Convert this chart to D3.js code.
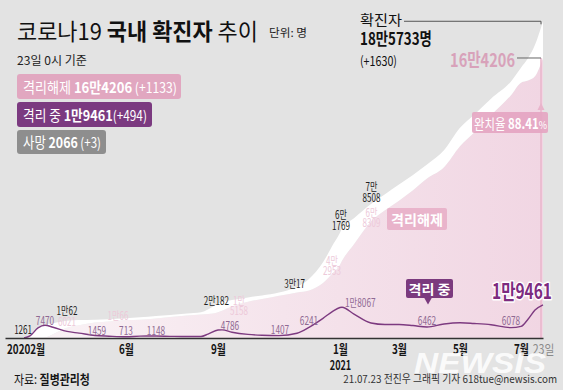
<!DOCTYPE html>
<html>
<head>
<meta charset="utf-8">
<title>코로나19 국내 확진자 추이</title>
<script src="https://cdn.jsdelivr.net/npm/d3@7"></script>
<style>
  body { margin: 0; background: #e3e3e3; }
  svg { display: block; font-family: "Noto Sans CJK KR", "Noto Sans", sans-serif; }
  text { white-space: pre; }
</style>
</head>
<body>
<svg id="chart" width="563" height="390"></svg>
<script>
// cumulative figures (rounded)
var dates = ["2020-02-20", "2020-02-26", "2020-03-05", "2020-03-12", "2020-03-20", "2020-04-03",
  "2020-04-15", "2020-05-01", "2020-05-15", "2020-06-01", "2020-06-15", "2020-07-01", "2020-07-15",
  "2020-08-01", "2020-08-15", "2020-08-22", "2020-09-01", "2020-09-05", "2020-09-15", "2020-10-01",
  "2020-10-15", "2020-11-01", "2020-11-19", "2020-12-01", "2020-12-15", "2020-12-25", "2021-01-01",
  "2021-01-03", "2021-01-15", "2021-02-01", "2021-02-15", "2021-03-01", "2021-03-15", "2021-03-29",
  "2021-04-15", "2021-05-01", "2021-05-15", "2021-06-01", "2021-06-21", "2021-07-01", "2021-07-08",
  "2021-07-15", "2021-07-23"];
var confirmed = [104, 1261, 6088, 7869, 8652, 10062, 10591, 10774, 10991, 11541, 12121, 12850, 13551,
  14336, 15039, 16670, 20182, 21177, 22285, 23812, 24889, 26635, 30017, 34652, 44364, 54770, 61769,
  64264, 70212, 78508, 84325, 90029, 95635, 101757, 110146, 123240, 130772, 140340, 150458, 158549,
  164028, 171911, 185733];
var released = [15, 34, 113, 333, 2233, 6021, 7496, 9065, 9681, 10556, 10744, 11420, 12282, 13195,
  13854, 14061, 15158, 16047, 18522, 21299, 22850, 24764, 26717, 27885, 32264, 38214, 42952, 45229,
  55017, 68309, 74881, 80524, 86665, 93565, 100162, 112507, 120378, 130581, 142372, 149732, 150998,
  153463, 164206];
var isolating = [88, 1215, 5940, 7470, 6325, 3867, 2870, 1459, 1050, 713, 1100, 1148, 980, 840, 880,
  2300, 4700, 4786, 3400, 2100, 1600, 1407, 2800, 6241, 11500, 15800, 17900, 18067, 14000, 8779, 7900,
  7900, 7300, 6462, 8200, 8900, 8500, 7800, 6078, 6800, 11000, 16400, 19461];

var tickDates = ["2020-02-01", "2020-06-01", "2020-09-01", "2021-01-01", "2021-03-01", "2021-05-01", "2021-07-01", "2021-07-23"];
var tickLabels = ["20202월", "6월", "9월", "1월", "3월", "5월", "7월", "23일"];

// point labels: date, series, text lines
var confirmedNotes = [["2020-02-26", ["1261"]], ["2020-04-03", ["1만62"]], ["2020-09-01", ["2만182"]],
  ["2020-11-19", ["3만17"]], ["2021-01-01", ["6만", "1769"]], ["2021-02-01", ["7만", "8508"]]];
var releasedNotes = [["2020-04-03", ["6021"]], ["2020-06-01", ["1만66"]], ["2020-09-01", ["1만", "5158"]],
  ["2021-01-01", ["4만", "2953"]], ["2021-02-01", ["6만", "8309"]]];
var isolatingNotes = [["2020-03-12", "7470"], ["2020-05-01", "1459"], ["2020-06-01", "713"],
  ["2020-07-01", "1148"], ["2020-09-05", "4786"], ["2020-11-01", "1407"], ["2020-12-01", "6241"],
  ["2021-01-03", "1만8067"], ["2021-03-29", "6462"], ["2021-06-21", "6078"]];

var parse = d3.timeParse("%Y-%m-%d");
var rows = dates.map(function (d, i) {
  return { date: parse(d), confirmed: confirmed[i], released: released[i], isolating: isolating[i] };
});
var byDate = {};
rows.forEach(function (r, i) { byDate[dates[i]] = r; });

var svg = d3.select("#chart");
var x = d3.scaleTime().domain([parse("2020-02-01"), parse("2021-07-23")]).range([5, 543]);
var y = d3.scaleLinear().domain([0, 190000]).range([338, 14]);

// text helper: parts = [{t, w, size, fill}], o = {size, fill, anchor, width, sx}
function label(parent, px, py, parts, o) {
  var g = parent.append("g").attr("transform", "translate(" + px + "," + py + ")");
  var t = g.append("text")
    .attr("font-size", o.size)
    .attr("fill", o.fill || "#222")
    .attr("text-anchor", o.anchor || "start");
  if (o.weight) t.attr("font-weight", o.weight);
  parts.forEach(function (p) {
    if (typeof p === "string") p = { t: p };
    var s = t.append("tspan").text(p.t);
    if (p.w) s.attr("font-weight", p.w);
    if (p.size) s.attr("font-size", p.size);
    if (p.fill) s.attr("fill", p.fill);
  });
  var sx = o.sx || 1;
  if (o.width) sx = o.width / t.node().getComputedTextLength();
  g.attr("transform", "translate(" + px + "," + py + ") scale(" + sx + ",1)");
  return t;
}

svg.append("rect").attr("width", 563).attr("height", 390).attr("fill", "#e3e3e3");

var defs = svg.append("defs");
var grad = defs.append("linearGradient").attr("id", "pinkFill").attr("x1", 0).attr("x2", 1).attr("y1", 0).attr("y2", 0);
grad.append("stop").attr("offset", 0).attr("stop-color", "#faf3f6");
grad.append("stop").attr("offset", 0.5).attr("stop-color", "#f5e4ec");
grad.append("stop").attr("offset", 1).attr("stop-color", "#f1d6e3");

var pinkArea = d3.area()
  .x(function (d) { return x(d.date); })
  .y0(y(0))
  .y1(function (d) { return y(d.released); })
  .curve(d3.curveMonotoneX);
var whiteArea = d3.area()
  .x(function (d) { return x(d.date); })
  .y0(function (d) { return y(d.released); })
  .y1(function (d) { return y(d.confirmed); })
  .curve(d3.curveMonotoneX);
var isoLine = d3.line()
  .x(function (d) { return x(d.date); })
  .y(function (d) { return y(d.isolating); })
  .curve(d3.curveMonotoneX);

svg.append("path").datum(rows).attr("d", pinkArea).attr("fill", "url(#pinkFill)");
svg.append("path").datum(rows).attr("d", whiteArea).attr("fill", "#ffffff");

// end marker line
var last = rows[rows.length - 1];
var ex = x(last.date) - 2;
svg.append("line").attr("x1", ex).attr("x2", ex).attr("y1", y(last.released)).attr("y2", y(0))
  .attr("stroke", "#e9b4cb").attr("stroke-width", 1.5);
svg.append("path").attr("d", "M" + ex + ",103l-3.5,7h7z").attr("fill", "#e9b4cb");

svg.append("path").datum(rows).attr("d", isoLine)
  .attr("fill", "none").attr("stroke", "#7d3a80").attr("stroke-width", 1.4);

// axis
var axisG = svg.append("g")
  .attr("transform", "translate(0," + y(0) + ")")
  .call(d3.axisBottom(x)
    .tickValues(tickDates.map(parse))
    .tickFormat(function (d, i) { return tickLabels[i]; })
    .tickSize(0).tickSizeOuter(0).tickPadding(7));
axisG.attr("font-family", null).attr("font-size", 13).attr("font-weight", 700);
axisG.select(".domain").attr("stroke", "#333").attr("stroke-width", 1.3);
axisG.selectAll(".tick text").attr("fill", "#151515").attr("transform", "scale(0.76,1)");
axisG.selectAll(".tick text").filter(function (d, i) { return i === 0; })
  .attr("text-anchor", "start").attr("x", 2);
axisG.selectAll(".tick text").filter(function (d, i) { return i === tickLabels.length - 1; })
  .attr("font-weight", 400).attr("fill", "#8a8a8a").attr("transform", "scale(0.82,1)");
axisG.selectAll(".tick").filter(function (d, i) { return i === 3; })
  .append("text").attr("y", 32).attr("fill", "#151515").attr("text-anchor", "middle")
  .attr("transform", "scale(0.7,1)").text("2021");

// point labels
var confOff = [[2, -2, "end"], [0, -6, "middle"], [11, 1, "end"], [8, 1, "end"], [1, -13.5, "middle"], [0.5, -13, "middle"]];
confirmedNotes.forEach(function (n, i) {
  var r = byDate[n[0]], o = confOff[i];
  n[1].forEach(function (line, j) {
    label(svg, x(r.date) + o[0], y(r.confirmed) + o[1] + j * 10.5, [line],
      { size: 11.5, fill: "#1e1e1e", anchor: o[2], sx: 0.7 });
  });
});
var relOff = [[0, -1.7], [-8, 0], [21, -7], [-8, 0.2], [0.5, -4.5]];
releasedNotes.forEach(function (n, i) {
  var r = byDate[n[0]], o = relOff[i];
  n[1].forEach(function (line, j) {
    label(svg, x(r.date) + o[0], y(r.released) + o[1] + j * 10, [line],
      { size: 11.5, fill: "#edc9d9", anchor: "middle", sx: 0.7 });
  });
});
var isoOff = [[0, 0, "middle"], [2, -0.5, "middle"], [0, -1.8, "middle"], [0, -1, "middle"], [8, 0, "middle"],
  [1, -1.6, "middle"], [0, -2.4, "middle"], [3, 0, "start"], [0, -2, "middle"], [0, -2.6, "middle"]];
isolatingNotes.forEach(function (n, i) {
  var r = byDate[n[0]], o = isoOff[i];
  label(svg, x(r.date) + o[0], y(r.isolating) + o[1], [n[1]],
    { size: 11.5, fill: "#8f6a93", anchor: o[2], sx: 0.72 });
});

// title block
label(svg, 17, 40, [{ t: "코로나19 " }, { t: "국내 확진자", w: 700 }, { t: " 추이" }], { size: 23, fill: "#111", width: 241 });
label(svg, 269, 37, ["단위: 명"], { size: 11, fill: "#222", width: 38 });
label(svg, 17, 65, ["23일 0시 기준"], { size: 12, fill: "#222", width: 70 });

// legend boxes
svg.append("rect").attr("x", 17).attr("y", 74).attr("width", 164).attr("height", 25).attr("rx", 3).attr("fill", "#e1a7c0");
label(svg, 23, 93, [{ t: "격리해제 " }, { t: "16만4206", w: 700 }, { t: " (+1133)", size: 14 }], { size: 15, fill: "#fff", width: 154 });
svg.append("rect").attr("x", 17).attr("y", 102).attr("width", 135).attr("height", 25).attr("rx", 3).attr("fill", "#7b3a80");
label(svg, 23, 121, [{ t: "격리 중 " }, { t: "1만9461", w: 700 }, { t: "(+494)", size: 14 }], { size: 15, fill: "#fff", width: 124 });
svg.append("rect").attr("x", 17).attr("y", 130).attr("width", 89).attr("height", 24).attr("rx", 3).attr("fill", "#8e8e8e");
label(svg, 23, 148, [{ t: "사망 " }, { t: "2066", w: 700 }, { t: " (+3)", size: 14 }], { size: 15, fill: "#fff", width: 78 });

// total callout
label(svg, 360, 25, ["확진자"], { size: 14, fill: "#111", width: 42 });
svg.append("path").attr("d", "M404," + y(last.confirmed) + "H" + ex + "v3")
  .attr("fill", "none").attr("stroke", "#555").attr("stroke-width", 1);
label(svg, 360, 45, [{ t: "18만5733명", w: 700 }], { size: 17, fill: "#111", width: 72 });
label(svg, 360, 66, ["(+1630)"], { size: 13, fill: "#111", width: 37 });

label(svg, 515, 67, [{ t: "16만4206", w: 700 }], { size: 19, fill: "#d8a2ba", anchor: "end", width: 65 });
svg.append("line").attr("x1", 517).attr("x2", ex).attr("y1", y(last.released)).attr("y2", y(last.released))
  .attr("stroke", "#666").attr("stroke-width", 1);

svg.append("rect").attr("x", 472).attr("y", 112).attr("width", 76).attr("height", 21).attr("rx", 2)
  .attr("fill", "#e4a4c1").attr("opacity", 0.9);
label(svg, 474, 129, [{ t: "완치율 " }, { t: "88.41", w: 700 }, { t: "%", size: 11 }], { size: 14, fill: "#fff", width: 73 });

// series tags
svg.append("rect").attr("x", 387).attr("y", 208).attr("width", 60).attr("height", 22).attr("rx", 2).attr("fill", "#e9b4cb");
label(svg, 417, 225, [{ t: "격리해제", w: 700 }], { size: 14, fill: "#fff", anchor: "middle", width: 52 });
svg.append("rect").attr("x", 406).attr("y", 279).attr("width", 47).attr("height", 19).attr("rx", 2).attr("fill", "#7b3a7e");
svg.append("path").attr("d", "M424,297.5h8l-4,7z").attr("fill", "#7b3a7e");
label(svg, 429.5, 294, [{ t: "격리 중", w: 700 }], { size: 13, fill: "#fff", anchor: "middle", width: 42 });

label(svg, 552, 299, [{ t: "1만9461", w: 700 }], { size: 21, fill: "#7d2b7f", anchor: "end", width: 60 })
  .attr("stroke", "#fff").attr("stroke-width", 3).attr("paint-order", "stroke").attr("stroke-linejoin", "round");

// footer
label(svg, 14, 384, [{ t: "자료: " }, { t: "질병관리청", w: 700 }], { size: 13, fill: "#151515", width: 76 });
label(svg, 557, 383, ["21.07.23 전진우 그래픽 기자 618tue@newsis.com"], { size: 11, fill: "#333", anchor: "end", width: 214 });

label(svg, 414, 373, [{ t: "NEWSIS", w: 700 }], { size: 29, fill: "#ffffff", width: 129 })
  .attr("font-family", "Liberation Sans, sans-serif").attr("font-style", "italic").attr("opacity", 0.85);
</script>
</body>
</html>
